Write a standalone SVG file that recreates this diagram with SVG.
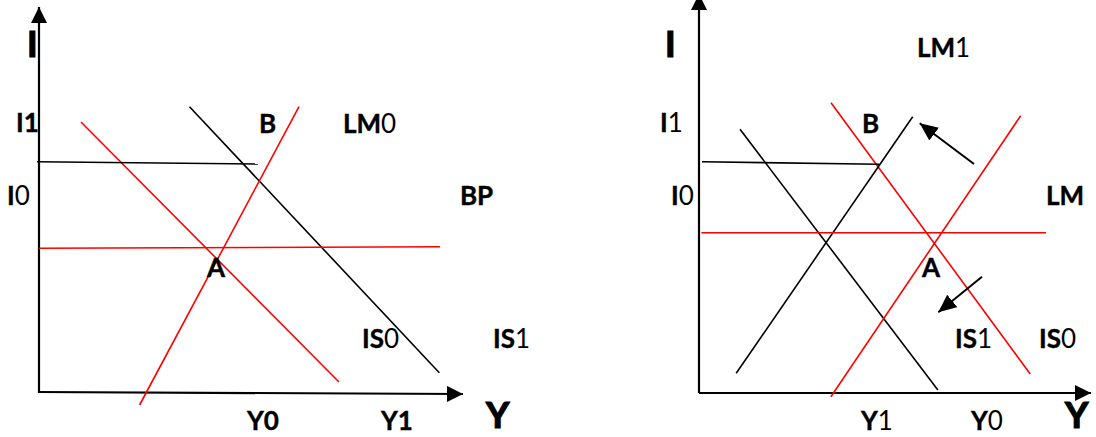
<svg xmlns="http://www.w3.org/2000/svg" width="1096" height="437" viewBox="0 0 1096 437">
<defs>
<marker id="ah" markerUnits="userSpaceOnUse" markerWidth="16" markerHeight="16" refX="16" refY="8" orient="auto" viewBox="0 0 16 16">
<path d="M0,0 L16,8 L0,16 z" fill="#000"/>
</marker>
<marker id="ahs" markerUnits="userSpaceOnUse" markerWidth="18" markerHeight="16" refX="18" refY="8" orient="auto" viewBox="0 0 18 16">
<path d="M0,0 L18,8 L0,16 z" fill="#000"/>
</marker>
</defs>
<style>
.ax{stroke:#000;stroke-width:2.2;fill:none}
.bk{stroke:#000;stroke-width:1.6;fill:none}
.rd{stroke:#ff0000;stroke-width:1.6;fill:none}
.sh{stroke:#000;stroke-width:2;fill:none}
text{font-family:Lato,"Liberation Sans",sans-serif;font-size:26px;fill:#000}
.b{font-weight:bold;stroke:#000;stroke-width:0.4}
.n{font-weight:normal;stroke:none}
.big{font-size:36px;font-weight:bold;stroke:#000;stroke-width:1.2}
</style>
<rect width="1096" height="437" fill="#fff"/>

<g id="left-panel">
<g id="left-axes">
<line class="ax" x1="39" y1="393" x2="39" y2="7" marker-end="url(#ah)"/>
<line class="ax" x1="38" y1="392" x2="463" y2="394" marker-end="url(#ah)"/>
</g>
<g id="left-curves">
<line id="L-IS0" class="rd" x1="81" y1="122" x2="339" y2="382"/>
<line id="L-IS1" class="bk" x1="189.5" y1="106.7" x2="439.3" y2="372.7"/>
<line id="L-LM0" class="rd" x1="299" y1="106.7" x2="139.6" y2="405"/>
<line id="L-I1" class="bk" x1="37" y1="161.7" x2="258" y2="164"/>
<line id="L-BP" class="rd" x1="39" y1="248.3" x2="440" y2="246.7"/>
</g>
<g id="left-labels">
<text class="big" x="27" y="57">I</text>
<text class="b" x="16" y="132">I1</text>
<text x="7" y="205"><tspan class="b">I</tspan><tspan class="n">0</tspan></text>
<text class="b" x="259" y="133">B</text>
<text x="343" y="133"><tspan class="b">LM</tspan><tspan class="n">0</tspan></text>
<text class="b" x="460" y="205">BP</text>
<text class="b" x="207" y="277">A</text>
<text x="362" y="348"><tspan class="b">IS</tspan><tspan class="n">0</tspan></text>
<text x="493" y="348"><tspan class="b">IS</tspan><tspan class="n">1</tspan></text>
<text class="b" x="247" y="430">Y0</text>
<text class="b" x="381" y="430">Y1</text>
<text class="big" x="486" y="428">Y</text>
</g>
</g>

<g id="right-panel">
<g id="right-axes">
<line class="ax" x1="699" y1="393" x2="699" y2="-6" marker-end="url(#ah)"/>
<line class="ax" x1="699" y1="393" x2="1091" y2="393" marker-end="url(#ah)"/>
</g>
<g id="right-curves">
<line id="R-IS0" class="rd" x1="831" y1="102.7" x2="1030.2" y2="374"/>
<line id="R-LM1" class="bk" x1="912.7" y1="116.7" x2="736.2" y2="373.3"/>
<line id="R-IS1" class="bk" x1="740" y1="129.3" x2="937.9" y2="390"/>
<line id="R-LM" class="rd" x1="1020.7" y1="115.7" x2="830.9" y2="396.7"/>
<line id="R-I1" class="bk" x1="702" y1="161.7" x2="879" y2="164.3"/>
<line id="R-I0" class="rd" x1="701.4" y1="232.7" x2="1046" y2="232.7"/>
</g>
<g id="connectors">
<line class="sh" x1="974" y1="164" x2="919.7" y2="123.3" marker-end="url(#ahs)"/>
<line class="sh" x1="982" y1="276.7" x2="938.3" y2="312.3" marker-end="url(#ahs)"/>
</g>
<g id="right-labels">
<text class="big" x="665" y="57">I</text>
<text x="660" y="132"><tspan class="b">I</tspan><tspan class="n">1</tspan></text>
<text x="671" y="205"><tspan class="b">I</tspan><tspan class="n">0</tspan></text>
<text x="917" y="57"><tspan class="b">LM</tspan><tspan class="n">1</tspan></text>
<text class="b" x="862" y="133">B</text>
<text class="b" x="1046" y="205">LM</text>
<text class="b" x="922" y="277">A</text>
<text x="955" y="348"><tspan class="b">IS</tspan><tspan class="n">1</tspan></text>
<text x="1039" y="348"><tspan class="b">IS</tspan><tspan class="n">0</tspan></text>
<text x="861" y="430"><tspan class="b">Y</tspan><tspan class="n">1</tspan></text>
<text x="971" y="430"><tspan class="b">Y</tspan><tspan class="n">0</tspan></text>
<text class="big" x="1065" y="428">Y</text>
</g>
</g>
</svg>
